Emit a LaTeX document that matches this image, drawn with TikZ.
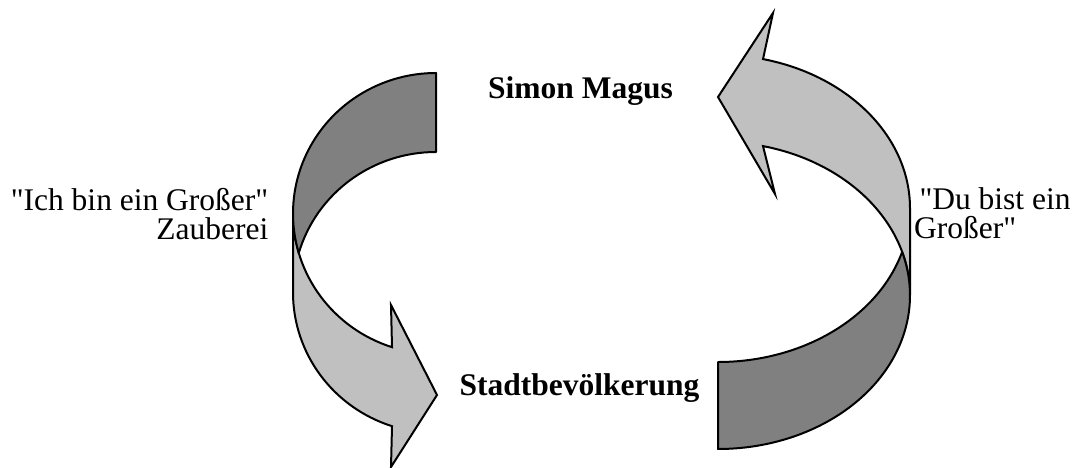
\documentclass[tikz,border=0pt]{standalone}
\usepackage{fontspec}
\setmainfont{Liberation Serif}[Ligatures=TeXOff]
\usetikzlibrary{calc}
\definecolor{lightgr}{RGB}{192,192,192}
\definecolor{darkgr}{RGB}{128,128,128}
\begin{document}
\begin{tikzpicture}[x=1pt,y=1pt,
  lightband/.style={fill=lightgr, draw=black, line width=2pt, line join=miter},
  darkband/.style={fill=darkgr, draw=black, line width=2pt, line join=round},
  lbl/.style={inner sep=0pt, font=\fontsize{31.5}{36}\selectfont},
  ttl/.style={inner sep=0pt, font=\fontsize{31.5}{36}\selectfont\bfseries}]
\useasboundingbox (0,0) rectangle (1079,468);
% ---------- left curved arrow ----------
\coordinate (LC1) at (436,254.5);
\coordinate (LC2) at (436,175.5);
\coordinate (LB1) at (391,163);
\coordinate (LT)  at (437,73);
\coordinate (LB2) at (391,1);
\filldraw[lightband] ($(LC1)+(180:143 and 140.5)$)
  arc[start angle=180, end angle=252.08, x radius=143, y radius=140.5]
  -- (LB1) -- (LT) -- (LB2)
  -- ($(LC2)+(252.08:143 and 140.5)$)
  arc[start angle=252.08, end angle=180, x radius=143, y radius=140.5]
  -- cycle;
\filldraw[darkband] ($(LC1)+(90:143 and 140.5)$)
  arc[start angle=90, end angle=196.33, x radius=143, y radius=140.5]
  arc[start angle=163.67, end angle=90, x radius=143, y radius=140.5]
  -- cycle;
% ---------- right curved arrow ----------
\coordinate (RC1) at (718,172.6);
\coordinate (RC2) at (718,259.6);
\coordinate (RB1) at (775,274);
\coordinate (RT)  at (718,371);
\coordinate (RB2) at (773,455);
\filldraw[lightband] ($(RC1)+(0:192 and 153.6)$)
  arc[start angle=0, end angle=76.44, x radius=192, y radius=153.6]
  -- (RB1) -- (RT) -- (RB2)
  -- ($(RC2)+(76.44:192 and 153.6)$)
  arc[start angle=76.44, end angle=0, x radius=192, y radius=153.6]
  -- cycle;
\filldraw[darkband] ($(RC1)+(-90:192 and 153.6)$)
  arc[start angle=-90, end angle=16.45, x radius=192, y radius=153.6]
  arc[start angle=-16.45, end angle=-90, x radius=192, y radius=153.6]
  -- cycle;
% ---------- labels ----------
\node[ttl, anchor=base] (simon) at (580.5,369) {Simon Magus};
\node[ttl, anchor=base] (stadt) at (579.5,72) {Stadtbevölkerung};
\node[lbl, anchor=base east] (ich) at (268.5,257.3) {"Ich bin ein Großer"};
\node[lbl, anchor=base east] (zaub) at (268.5,228) {Zauberei};
\node[lbl, anchor=base west] (du) at (919.3,258.7) {"Du bist ein};
\node[lbl, anchor=base west] (gross) at (914,229.7) {Großer"};
\end{tikzpicture}
\end{document}
